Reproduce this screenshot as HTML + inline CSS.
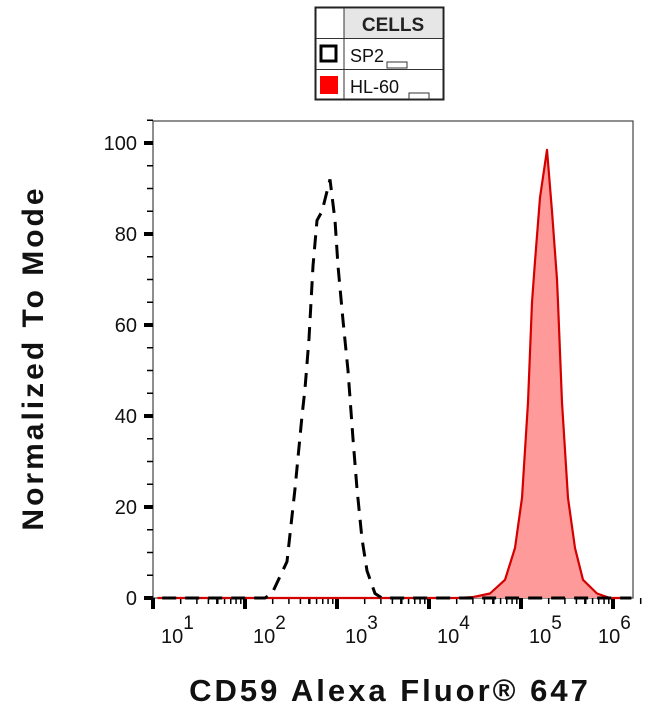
<!DOCTYPE html>
<html><head><meta charset="utf-8"><style>
body{margin:0;background:#fff;width:650px;height:715px;overflow:hidden;font-family:"Liberation Sans",sans-serif}
svg{display:block}
</style></head><body>
<svg width="650" height="715">
<g>
 <rect x="315.5" y="7.5" width="128" height="92" fill="#fff" stroke="#222" stroke-width="2"/>
 <rect x="344" y="9" width="98" height="29" fill="#e6e6e6"/>
 <line x1="344" y1="8" x2="344" y2="99" stroke="#333"/>
 <line x1="316" y1="38.5" x2="443" y2="38.5" stroke="#333"/>
 <line x1="316" y1="69.5" x2="443" y2="69.5" stroke="#333"/>
 <text x="393" y="31" text-anchor="middle" font-size="19" font-weight="bold" fill="#222">CELLS</text>
 <rect x="321" y="46" width="15" height="15" fill="#fff" stroke="#000" stroke-width="3"/>
 <text x="350" y="62" font-size="18" fill="#111">SP2</text>
 <rect x="387" y="62" width="20" height="6" fill="#fff" stroke="#333"/>
 <rect x="320" y="76" width="18" height="18" fill="#f00"/>
 <text x="350" y="93" font-size="18" fill="#111">HL-60</text>
 <rect x="409" y="93" width="20" height="6" fill="#fff" stroke="#333"/>
</g>
<rect x="153" y="121" width="480" height="477" fill="none" stroke="#444" stroke-width="1.2"/>
<g id="ticks"></g>
<g id="series"></g>
<text x="390" y="701" text-anchor="middle" font-size="31" font-weight="bold" letter-spacing="3" fill="#111">CD59 Alexa Fluor® 647</text>
<text transform="translate(43,358) rotate(-90)" text-anchor="middle" font-size="30" font-weight="bold" letter-spacing="3" fill="#111">Normalized To Mode</text>
</svg>
<script>
const yTicks=[0,20,40,60,80,100];
const xDecades=[1,2,3,4,5,6];
const sp2Log=[1.1,2.217,2.293,2.457,2.543,2.620,2.652,2.696,2.739,2.783,2.837,2.924,2.978,3.011,3.065,3.120,3.174,3.217,3.272,3.326,3.413,3.489,6.2];
const sp2Val=[0,0,1,8,24,40,46,57,73,83,85,92,83,73,61,50,35,24,13,6,1,0,0];
const hl60Log=[1.05,4.3,4.478,4.663,4.826,4.935,5.011,5.076,5.120,5.152,5.207,5.283,5.337,5.391,5.402,5.446,5.511,5.587,5.674,5.826,5.967,6.2];
const hl60Val=[0,0,0.2,1,4,11,22,43,65,74,88,98.5,85,70,65,43,22,11,4,1,0,0];
const NS="http://www.w3.org/2000/svg";
const X=l=>153+(l-1)*92, Y=v=>598-v*4.55;
function mk(t,a,p){const e=document.createElementNS(NS,t);for(const k in a)e.setAttribute(k,a[k]);p.appendChild(e);return e;}
const tg=document.getElementById('ticks'), sg=document.getElementById('series');
for(let v=0;v<=105;v+=5){const maj=v%20===0;mk('line',{x1:maj?144:147,x2:153,y1:Y(v),y2:Y(v),stroke:'#000','stroke-width':maj?4:1.5},tg);}
yTicks.forEach(v=>{const t=mk('text',{x:137,y:Y(v)+7,'text-anchor':'end','font-size':20,fill:'#111'},tg);t.textContent=v;

});
for(let d=1;d<=6;d++){mk('line',{x1:X(d),x2:X(d),y1:598,y2:609,stroke:'#000','stroke-width':4},tg);
 if(d<6)for(let m=2;m<=9;m++){const l=d+Math.log10(m);mk('line',{x1:X(l),x2:X(l),y1:598,y2:604,stroke:'#000','stroke-width':m===5?2.5:1.5},tg);}}
mk('line',{x1:X(6+Math.log10(2)),x2:X(6+Math.log10(2)),y1:598,y2:604,stroke:'#000','stroke-width':1.5},tg);
xDecades.forEach(d=>{const t=mk('text',{x:X(d)+(d===6?-15:8),y:643,'font-size':20,fill:'#111'},tg);t.textContent='10';


const s=mk('tspan',{dy:-14,'font-size':19},t);s.textContent=d;});
function path(ls,vs){return ls.map((l,i)=>(i?'L':'M')+X(l).toFixed(1)+','+Y(vs[i]).toFixed(1)).join(' ');}
const hp=path(hl60Log,hl60Val);
const fill=mk('path',{d:hp+' Z',fill:'#ff9a9a',stroke:'none'},sg);


const hl=mk('path',{d:hp,fill:'none',stroke:'#d40000','stroke-width':2.2,'stroke-linejoin':'round'},sg);


const sp=mk('path',{d:path(sp2Log,sp2Val),fill:'none',stroke:'#000','stroke-width':3,'stroke-dasharray':'14,9'},sg);


</script>
</body></html>
